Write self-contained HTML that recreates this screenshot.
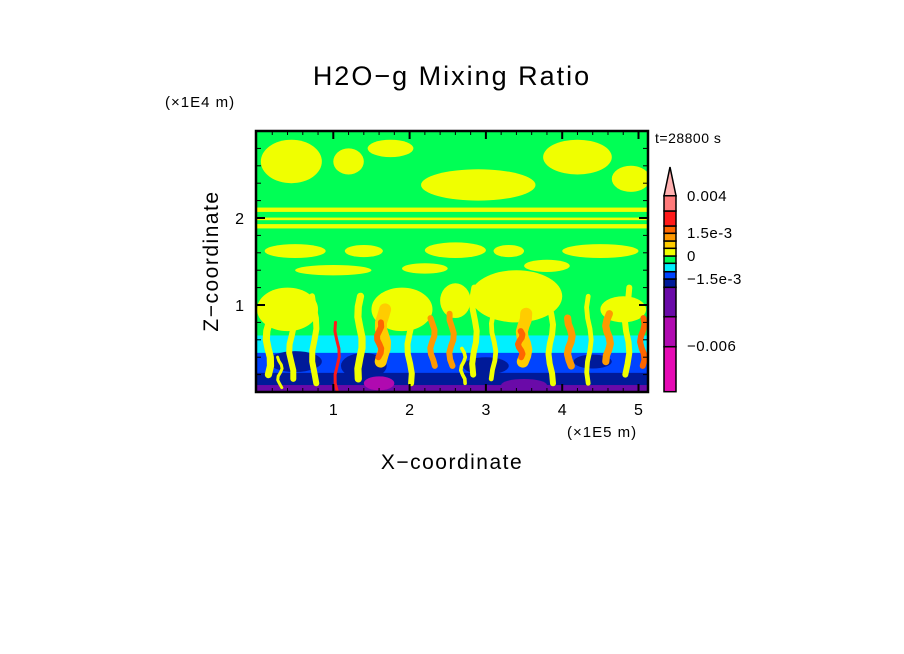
<!DOCTYPE html>
<html><head><meta charset="utf-8"><style>
html,body{margin:0;padding:0;background:#fff}
svg{display:block}
text{font-family:"Liberation Sans",sans-serif;fill:#000}
</style></head><body>
<svg id="chart" width="904" height="654" viewBox="0 0 904 654" xmlns="http://www.w3.org/2000/svg">
<defs><clipPath id="pc"><rect x="256" y="131" width="392" height="261"/></clipPath></defs>
<text x="452" y="85" font-size="27" letter-spacing="2" text-anchor="middle">H2O−g Mixing Ratio</text>
<text x="165" y="107" font-size="15" letter-spacing="1">(×1E4 m)</text>
<text x="655" y="143" font-size="14" letter-spacing="0.5">t=28800 s</text>
<g id="field" clip-path="url(#pc)"></g>
<g id="axes"></g>
<text x="567" y="437" font-size="15" letter-spacing="1">(×1E5 m)</text>
<text x="452" y="469" font-size="21" letter-spacing="1.5" text-anchor="middle">X−coordinate</text>
<text x="218" y="261" font-size="21" letter-spacing="1.5" text-anchor="middle" transform="rotate(-90 218 261)">Z−coordinate</text>
<g id="cbar"></g>
</svg>
<script>
const levelColors=["#e60ab4","#b00ab0","#6a0aa8","#001a99","#0044ff","#00f0ff","#00ff55","#f0ff00","#ffcc00","#ff9900","#ff6600","#ff1a1a","#ff7a7a","#ffb0b0"];
const cbarEdges=[391.7,346.7,316.7,287.3,279,271.7,263.3,256,248.3,241,233.3,226,211,195.7];
const cbarLabels=["0.004","1.5e-3","0","−1.5e-3","−0.006"];
const cbarLabelY=[196,233,256,279,346];
const xTicks=[1,2,3,4,5];
const yTicks=[1,2];
// bands: [zBottom, zTop, level]
const bands=[[0,3.0,6],[0,0.65,5],[0,0.45,4],[0,0.22,3],[0,0.08,2]];
// blobs: [x, z, rx, rz, level]
const blobs=[[0.45,2.65,0.4,0.25,7],[1.2,2.65,0.2,0.15,7],[1.75,2.8,0.3,0.1,7],[2.9,2.38,0.75,0.18,7],[4.2,2.7,0.45,0.2,7],[4.9,2.45,0.25,0.15,7],
[0.5,1.62,0.4,0.08,7],[1.4,1.62,0.25,0.07,7],[2.6,1.63,0.4,0.09,7],[3.3,1.62,0.2,0.07,7],[4.5,1.62,0.5,0.08,7],[1.0,1.4,0.5,0.06,7],[2.2,1.42,0.3,0.06,7],[3.8,1.45,0.3,0.07,7],
[3.4,1.1,0.6,0.3,7],[0.4,0.95,0.4,0.25,7],[1.9,0.95,0.4,0.25,7],[4.8,0.95,0.3,0.15,7],[2.6,1.05,0.2,0.2,7],
[0.5,0.35,0.35,0.12,3],[1.4,0.3,0.3,0.15,3],[3.0,0.3,0.3,0.1,3],[4.4,0.35,0.25,0.08,3],[1.6,0.1,0.2,0.08,1],[3.5,0.08,0.3,0.07,2]];
// stripes: [zBottom, zTop, level]
const stripes=[[2.07,2.12,7],[1.975,2.005,7],[1.88,1.93,7]];
// plumes: [x, zBottom, zTop, width, level]
const plumes=[[0.15,0.2,1.0,0.12,7],[0.45,0.15,0.95,0.1,7],[0.75,0.1,1.1,0.1,7],[1.05,0.0,0.8,0.05,11],[1.35,0.15,1.1,0.12,7],[1.65,0.35,0.95,0.2,8],[1.6,0.4,0.8,0.1,10],
[2.0,0.1,1.0,0.1,7],[2.3,0.3,0.85,0.1,9],[2.55,0.3,0.9,0.1,9],[2.85,0.2,1.2,0.1,7],[3.1,0.15,1.0,0.08,7],[3.5,0.35,0.9,0.2,8],[3.45,0.4,0.7,0.1,10],[3.85,0.1,1.0,0.1,7],
[4.1,0.3,0.85,0.12,9],[4.35,0.1,1.1,0.08,7],[4.6,0.35,0.9,0.12,9],[4.85,0.2,1.2,0.1,7],[5.05,0.3,0.85,0.1,10],[2.7,0.1,0.5,0.06,7],[0.3,0.05,0.4,0.05,7]];
const X=v=>257+v*76.3, Z=v=>392-v*87;
const NS="http://www.w3.org/2000/svg";
function mk(t,a,p){const e=document.createElementNS(NS,t);for(const k in a)e.setAttribute(k,a[k]);p.appendChild(e);return e;}
const field=document.getElementById('field');
bands.forEach(b=>{const e=mk('rect',{x:256,y:Z(b[1]),width:392,height:Z(b[0])-Z(b[1]),fill:levelColors[b[2]]},field);

});
blobs.forEach(b=>{const e=mk('ellipse',{cx:X(b[0]),cy:Z(b[1]),rx:b[2]*76.3,ry:b[3]*87,fill:levelColors[b[4]]},field);

});
stripes.forEach(s=>{const e=mk('rect',{x:256,y:Z(s[1]),width:392,height:Z(s[0])-Z(s[1]),fill:levelColors[s[2]]},field);

});
plumes.forEach((p,i)=>{let d='';const n=8;for(let k=0;k<=n;k++){const z=p[1]+(p[2]-p[1])*k/n;const x=p[0]+0.03*Math.sin(k*1.1+i);d+=(k?'L':'M')+X(x).toFixed(1)+' '+Z(z).toFixed(1);}
const e=mk('path',{d:d,stroke:levelColors[p[4]],'stroke-width':p[3]*60,fill:'none','stroke-linecap':'round','stroke-linejoin':'round'},field);

});
const axes=document.getElementById('axes');
const fr=mk('rect',{x:256,y:131,width:392,height:261,fill:'none',stroke:'#000','stroke-width':2.5},axes);


for(let v=0.2;v<5.15;v+=0.2){const maj=Math.abs(v-Math.round(v))<0.01;mk('line',{x1:X(v),x2:X(v),y1:392,y2:392-(maj?8:4),stroke:'#000','stroke-width':maj?2:1},axes);mk('line',{x1:X(v),x2:X(v),y1:131,y2:131+(maj?8:4),stroke:'#000','stroke-width':maj?2:1},axes);}
for(let v=0.2;v<3;v+=0.2){const maj=Math.abs(v-Math.round(v))<0.01;mk('line',{x1:256,x2:256+(maj?9:5),y1:Z(v),y2:Z(v),stroke:'#000','stroke-width':maj?2:1},axes);mk('line',{x1:648,x2:648-(maj?9:5),y1:Z(v),y2:Z(v),stroke:'#000','stroke-width':maj?2:1},axes);}
xTicks.forEach(v=>{const t=mk('text',{x:X(v),y:415,'font-size':16,'text-anchor':'middle'},axes);t.textContent=v;

});
yTicks.forEach(v=>{const t=mk('text',{x:244,y:Z(v)+6,'font-size':16,'text-anchor':'end'},axes);t.textContent=v;

});
const cb=document.getElementById('cbar');


for(let i=0;i<13;i++){const e=mk('rect',{x:664,y:cbarEdges[i+1],width:12,height:cbarEdges[i]-cbarEdges[i+1],fill:levelColors[i],stroke:'#000','stroke-width':1.5},cb);

}
const tri=mk('polygon',{points:'664,195.7 676,195.7 670,167',fill:levelColors[13],stroke:'#000','stroke-width':1.5},cb);


cbarLabels.forEach((l,i)=>{const t=mk('text',{x:687,y:cbarLabelY[i]+5,'font-size':15,'letter-spacing':0.5},cb);t.textContent=l;

});
</script>
</body></html>
